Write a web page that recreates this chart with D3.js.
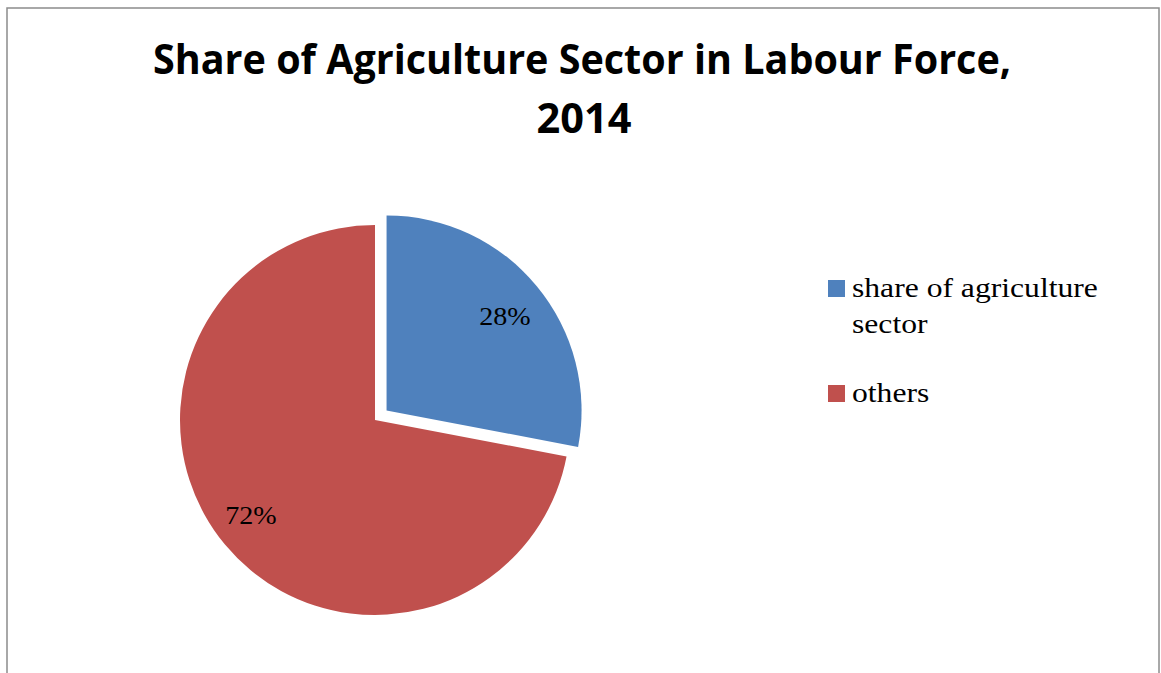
<!DOCTYPE html>
<html>
<head>
<meta charset="utf-8">
<script src="https://cdn.jsdelivr.net/npm/d3@7"></script>
<style>
  html, body { margin: 0; padding: 0; background: #fff; }
  svg { display: block; }
</style>
</head>
<body>
<svg id="chart" width="1161" height="673"></svg>
<script>
// Labour force split, 2014
const categories = ["share of agriculture sector", "others"];
const values = [28, 72];
const colors = ["#4F81BD", "#C0504D"];
const titleLines = ["Share of Agriculture Sector in Labour Force,", "2014"];
const legendLines = [["share of agriculture", "sector"], ["others"]];

const svg = d3.select("#chart");

// Chart frame
svg.append("rect")
  .attr("x", 7).attr("y", 8)
  .attr("width", 1152).attr("height", 700)
  .attr("fill", "#fff")
  .attr("stroke", "#8c8c8c").attr("stroke-width", 1.5);

// Title
const title = svg.append("g")
  .attr("font-family", "'Open Sans', 'Liberation Sans', sans-serif")
  .attr("font-weight", "bold")
  .attr("fill", "#000")
  .attr("text-anchor", "middle");
title.append("text").attr("x", 582).attr("y", 74)
  .attr("font-size", 41)
  .attr("textLength", 858).attr("lengthAdjust", "spacingAndGlyphs")
  .text(titleLines[0]);
title.append("text").attr("x", 584).attr("y", 133)
  .attr("font-size", 41)
  .attr("textLength", 95).attr("lengthAdjust", "spacingAndGlyphs")
  .text(titleLines[1]);

// Pie
const cx = 375, cy = 420, r = 195, explode = 15;
const pie = d3.pie().sort(null).value(d => d)(values);
const arc = d3.arc().innerRadius(0).outerRadius(r);

const slices = svg.append("g").attr("transform", `translate(${cx},${cy})`);
slices.selectAll("path")
  .data(pie)
  .join("path")
  .attr("transform", (d, i) => {
    if (i !== 0) return null;
    const a = (d.startAngle + d.endAngle) / 2;
    return `translate(${Math.sin(a) * explode},${-Math.cos(a) * explode})`;
  })
  .attr("d", arc)
  .attr("fill", (d, i) => colors[i]);

// Percentage labels (serif, slightly widened)
const labelPos = [[130, -95], [-124, 104]];
slices.selectAll("text.pct")
  .data(pie)
  .join("text")
  .attr("class", "pct")
  .attr("transform", (d, i) => `translate(${labelPos[i][0]},${labelPos[i][1]}) scale(1.08,1)`)
  .attr("text-anchor", "middle")
  .attr("font-family", "'Liberation Serif', 'Times New Roman', serif")
  .attr("font-size", 26)
  .attr("fill", "#000")
  .text(d => Math.round(d.data / d3.sum(values) * 100) + "%");

// Legend
const legend = svg.append("g")
  .attr("font-family", "'Liberation Serif', 'Times New Roman', serif")
  .attr("font-size", 28)
  .attr("fill", "#000");
const legendY = [297, 402];
categories.forEach((c, i) => {
  const g = legend.append("g");
  g.append("rect")
    .attr("x", 828).attr("y", legendY[i] - 17)
    .attr("width", 17).attr("height", 17)
    .attr("fill", colors[i]);
  legendLines[i].forEach((line, j) => {
    g.append("text")
      .attr("transform", `translate(852,${legendY[i] + j * 36}) scale(1.13,1)`)
      .text(line);
  });
});
</script>
</body>
</html>
